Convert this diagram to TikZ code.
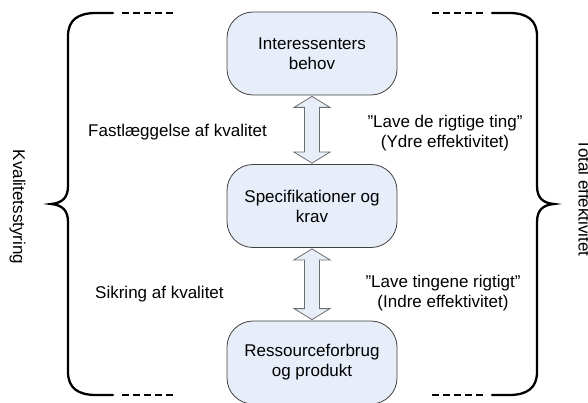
\documentclass[tikz,border=0pt]{standalone}
\usepackage{fontspec}
\setmainfont{Liberation Sans}
\usetikzlibrary{calc}

\definecolor{boxblue}{RGB}{231,237,249}
\definecolor{boxedge}{RGB}{64,64,64}
\definecolor{arrowedge}{RGB}{110,110,110}

\tikzset{
  stage/.style={draw=boxedge, line width=0.8pt, fill=boxblue,
    rounded corners=26pt, minimum width=170pt, minimum height=83pt,
    align=center, font=\fontsize{17}{20}\selectfont, inner sep=0pt},
  label/.style={font=\fontsize{17}{20}\selectfont, align=center, inner sep=0pt},
  blockarrow/.style={draw=arrowedge, line width=0.8pt, fill=boxblue, line join=miter},
  brace/.style={line width=2.3pt, line cap=round},
  tail/.style={line width=1.4pt, dash pattern=on 7pt off 4pt}
}

% Double-headed block arrow from the bottom of #1 to the top of #2
\newcommand{\twowayarrow}[2]{%
  \draw[blockarrow] let \p1=($(#1.south)+(0,1)$), \p2=($(#2.north)+(0,-1)$) in
    (\x1,\y1) -- (\x1+18pt,\y1-11pt) -- (\x1+7.5pt,\y1-11pt)
    -- (\x1+7.5pt,\y2+11pt) -- (\x1+18pt,\y2+11pt) -- (\x1,\y2)
    -- (\x1-18pt,\y2+11pt) -- (\x1-7.5pt,\y2+11pt)
    -- (\x1-7.5pt,\y1-11pt) -- (\x1-18pt,\y1-11pt) -- cycle;}

\begin{document}
\begin{tikzpicture}[x=1pt, y=-1pt]
\useasboundingbox (0,0) rectangle (588,403);

% process stages
\node[stage] (b1) at (312,53.5) {Interessenters\\behov};
\node[stage] (b2) at (312,206) {Specifikationer og\\krav};
\node[stage] (b3) at (312,362.5) {Ressourceforbrug\\og produkt};

\twowayarrow{b1}{b2}
\twowayarrow{b2}{b3}

% left-hand labels
\node[label, anchor=west] (l1) at (88,132) {Fastlæggelse af kvalitet};
\node[label, anchor=west] (l2) at (95,294) {Sikring af kvalitet};

% right-hand labels
\node[label] (r1) at (445,133) {”Lave de rigtige ting”\\(Ydre effektivitet)};
\node[label] (r2) at (443,293) {”Lave tingene rigtigt”\\(Indre effektivitet)};

% left brace
\draw[brace] (113,13) -- (96,13) .. controls (78,13) and (68,20) .. (68,36)
  -- (68,186) .. controls (68,198) and (62,203) .. (51,204)
  .. controls (62,205) and (68,210) .. (68,222)
  -- (68,372) .. controls (68,388) and (78,395) .. (96,395) -- (113,395);
\draw[tail] (122,13) -- (175,13);
\draw[tail] (122,395) -- (175,395);

% right brace
\draw[brace] (492,13) -- (509,13) .. controls (527,13) and (537,20) .. (537,36)
  -- (537,186) .. controls (537,198) and (543,203) .. (554,204)
  .. controls (543,205) and (537,210) .. (537,222)
  -- (537,372) .. controls (537,388) and (527,395) .. (509,395) -- (492,395);
\draw[tail] (432,13) -- (485,13);
\draw[tail] (432,395) -- (485,395);

% brace captions
\node[label, rotate=-90, anchor=base] (kv) at (13,207) {Kvalitetsstyring};
\node[label, rotate=-90, anchor=base] (te) at (578.5,198) {Total effektivitet};
\end{tikzpicture}
\end{document}
